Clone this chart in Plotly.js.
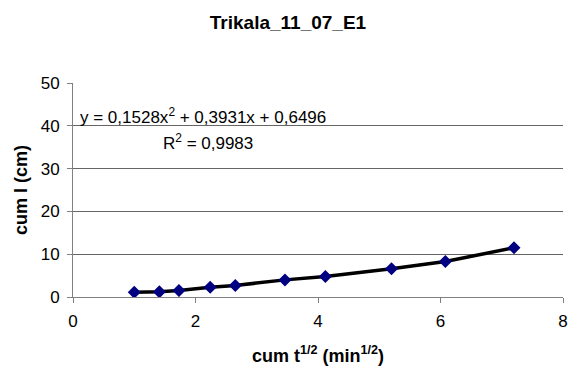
<!DOCTYPE html>
<html><head><meta charset="utf-8">
<script src="https://cdn.plot.ly/plotly-3.0.1.min.js"></script>
<style>body{margin:0;padding:0;background:#fff}#chart{width:568px;height:370px}</style>
</head><body><div id="chart"></div>
<script>
var xValues = [1.0, 1.41, 1.73, 2.24, 2.65, 3.46, 4.12, 5.2, 6.08, 7.2];
var yValues = [1.1, 1.2, 1.5, 2.3, 2.7, 4.0, 4.8, 6.6, 8.3, 11.5];
var xTicks = [0, 2, 4, 6, 8];
var yTicks = [0, 10, 20, 30, 40, 50];
var titleText = "Trikala_11_07_E1";
var eqText = "y = 0,1528x<sup>2</sup> + 0,3931x + 0,6496";
var r2Text = "R<sup>2</sup> = 0,9983";

var font = "Liberation Sans, Arial, sans-serif";
var data = [
  {x: xValues, y: yValues, mode: "lines", line: {color: "#000", width: 3.5}, hoverinfo: "skip"},
  {x: xValues, y: yValues, mode: "markers", marker: {symbol: "diamond", color: "#000080", size: 10}}
];
var layout = {
  width: 568, height: 370,
  margin: {l: 73, r: 5, t: 83, b: 73},
  paper_bgcolor: "#fff", plot_bgcolor: "#fff",
  showlegend: false,
  font: {family: font, size: 17, color: "#000"},
  title: {text: "<b>" + titleText + "</b>", font: {family: font, size: 19}, x: 0.507, xanchor: "center", y: 0.94, yanchor: "middle"},
  xaxis: {range: [0, 8], tickvals: xTicks, ticks: "outside", ticklen: 5, tickcolor: "#808080", ticklabelstandoff: 4,
    showgrid: false, zeroline: false, showline: true, linecolor: "#808080", linewidth: 1,
    tickfont: {size: 17}, title: {text: "<b>cum t<sup>1/2</sup> (min<sup>1/2</sup>)</b>", font: {size: 18}, standoff: 18}},
  yaxis: {range: [0, 50], tickvals: yTicks, ticks: "outside", ticklen: 5, tickcolor: "#808080", ticklabelstandoff: 4,
    showgrid: true, gridcolor: "#666", gridwidth: 1, zeroline: false, showline: true, linecolor: "#808080", linewidth: 1,
    tickfont: {size: 17}, title: {text: "<b>cum I (cm)</b>", font: {size: 18}, standoff: 8}},
  annotations: [
    {xref: "paper", yref: "paper", x: 0.01, y: 0.845, xanchor: "left", yanchor: "middle", text: eqText, showarrow: false, font: {size: 17}},
    {xref: "paper", yref: "paper", x: 0.18, y: 0.726, xanchor: "left", yanchor: "middle", text: r2Text, showarrow: false, font: {size: 17}}
  ]
};
Plotly.newPlot("chart", data, layout, {displayModeBar: false, staticPlot: true});
</script></body></html>
